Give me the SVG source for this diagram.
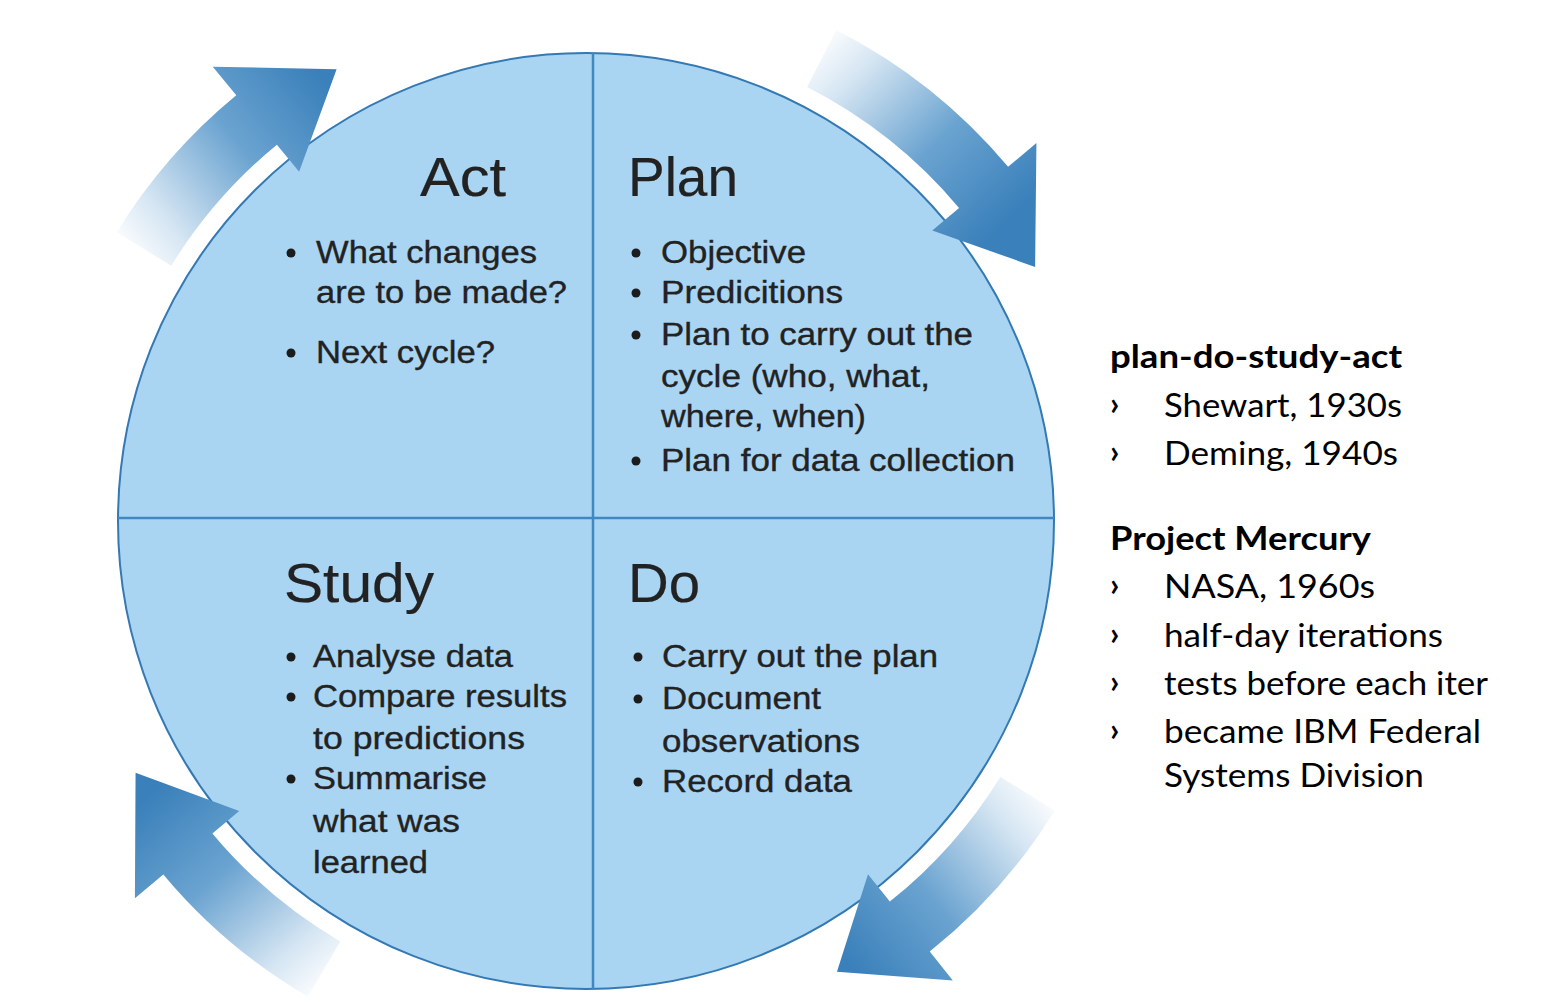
<svg xmlns="http://www.w3.org/2000/svg" width="1542" height="1004" viewBox="0 0 1542 1004">
<style>
.q{font-family:"Liberation Sans",Arial,sans-serif;fill:#222;stroke:#222;stroke-width:0.35px}
.t{font-size:56px;stroke-width:0.2px}
.b{font-size:31px}
.r{font-family:Lato,"Open Sans",sans-serif;font-size:33px;fill:#000}
.rb{font-weight:bold}
.ch{font-family:Lato,sans-serif;font-size:32px;font-weight:bold;fill:#000}
.dot{fill:#1c1c1c}
.arr{fill:url(#ag)}
</style>
<defs>
<linearGradient id="ag" gradientUnits="userSpaceOnUse" x1="545" y1="-10" x2="460" y2="240">
<stop offset="0" stop-color="#ffffff"/>
<stop offset="0.2" stop-color="#d6e6f3"/>
<stop offset="0.6" stop-color="#6aa3d0"/>
<stop offset="1" stop-color="#3a80ba"/>
</linearGradient>
</defs>
<rect width="1542" height="1004" fill="#ffffff"/>

<g id="cycle">
<circle cx="586" cy="521" r="468" fill="#a9d5f2" stroke="#3479b3" stroke-width="2"/>
<line x1="593" y1="53" x2="593" y2="989" stroke="#3f88c2" stroke-width="2.5"/>
<line x1="118" y1="518" x2="1054" y2="518" stroke="#3f88c2" stroke-width="2.5"/>
</g>

<g id="connectors">
<path class="arr" transform="translate(586,521) rotate(-148.4)" d="M551,0 A551,551 0 0 1 520.98,179.39 L555.97,191.43 L449.11,254.09 L427.37,147.16 L460.47,158.55 A487,487 0 0 0 487,0 Z"/>
<path class="arr" transform="translate(586,521) rotate(-63)" d="M551,0 A551,551 0 0 1 507.20,215.29 L541.25,229.75 L430.29,284.80 L416.07,176.61 L448.28,190.29 A487,487 0 0 0 487,0 Z"/>
<path class="arr" transform="translate(586,521) rotate(31.7)" d="M551,0 A551,551 0 0 1 518.75,185.74 L553.58,198.21 L450.43,251.74 L425.54,152.37 L458.50,164.17 A487,487 0 0 0 487,0 Z"/>
<path class="arr" transform="translate(586,521) rotate(120.3)" d="M551,0 A551,551 0 0 1 518.42,186.65 L553.24,199.18 L444.60,261.89 L425.28,153.11 L458.21,164.97 A487,487 0 0 0 487,0 Z"/>
</g>

<g id="act">
<text class="q t" x="420" y="196" textLength="86" lengthAdjust="spacingAndGlyphs">Act</text>
<circle class="dot" cx="291" cy="253" r="4.5"/>
<text class="q b" x="316" y="263" textLength="221" lengthAdjust="spacingAndGlyphs">What changes</text>
<text class="q b" x="316" y="303" textLength="251" lengthAdjust="spacingAndGlyphs">are to be made?</text>
<circle class="dot" cx="291" cy="353" r="4.5"/>
<text class="q b" x="316" y="363" textLength="179" lengthAdjust="spacingAndGlyphs">Next cycle?</text>
</g>

<g id="plan">
<text class="q t" x="628" y="196" textLength="110" lengthAdjust="spacingAndGlyphs">Plan</text>
<circle class="dot" cx="636" cy="253" r="4.5"/>
<text class="q b" x="661" y="263" textLength="145" lengthAdjust="spacingAndGlyphs">Objective</text>
<circle class="dot" cx="636" cy="293" r="4.5"/>
<text class="q b" x="661" y="303" textLength="182" lengthAdjust="spacingAndGlyphs">Predicitions</text>
<circle class="dot" cx="636" cy="335" r="4.5"/>
<text class="q b" x="661" y="345" textLength="312" lengthAdjust="spacingAndGlyphs">Plan to carry out the</text>
<text class="q b" x="661" y="387" textLength="269" lengthAdjust="spacingAndGlyphs">cycle (who, what,</text>
<text class="q b" x="661" y="427" textLength="205" lengthAdjust="spacingAndGlyphs">where, when)</text>
<circle class="dot" cx="636" cy="461" r="4.5"/>
<text class="q b" x="661" y="471" textLength="354" lengthAdjust="spacingAndGlyphs">Plan for data collection</text>
</g>

<g id="study">
<text class="q t" x="284" y="602" textLength="150" lengthAdjust="spacingAndGlyphs">Study</text>
<circle class="dot" cx="291" cy="657" r="4.5"/>
<text class="q b" x="313" y="667" textLength="200" lengthAdjust="spacingAndGlyphs">Analyse data</text>
<circle class="dot" cx="291" cy="697" r="4.5"/>
<text class="q b" x="313" y="707" textLength="254" lengthAdjust="spacingAndGlyphs">Compare results</text>
<text class="q b" x="313" y="749" textLength="212" lengthAdjust="spacingAndGlyphs">to predictions</text>
<circle class="dot" cx="291" cy="779" r="4.5"/>
<text class="q b" x="313" y="789" textLength="174" lengthAdjust="spacingAndGlyphs">Summarise</text>
<text class="q b" x="313" y="832" textLength="147" lengthAdjust="spacingAndGlyphs">what was</text>
<text class="q b" x="313" y="873" textLength="115" lengthAdjust="spacingAndGlyphs">learned</text>
</g>

<g id="do">
<text class="q t" x="628" y="602" textLength="72" lengthAdjust="spacingAndGlyphs">Do</text>
<circle class="dot" cx="638" cy="657" r="4.5"/>
<text class="q b" x="662" y="667" textLength="276" lengthAdjust="spacingAndGlyphs">Carry out the plan</text>
<circle class="dot" cx="638" cy="699" r="4.5"/>
<text class="q b" x="662" y="709" textLength="159" lengthAdjust="spacingAndGlyphs">Document</text>
<text class="q b" x="662" y="752" textLength="198" lengthAdjust="spacingAndGlyphs">observations</text>
<circle class="dot" cx="638" cy="782" r="4.5"/>
<text class="q b" x="662" y="792" textLength="190" lengthAdjust="spacingAndGlyphs">Record data</text>
</g>

<g id="notes">
<text class="r rb" x="1110" y="368" textLength="292" lengthAdjust="spacingAndGlyphs">plan-do-study-act</text>
<text class="ch" x="1110" y="415">›</text>
<text class="r" x="1164" y="417" textLength="238" lengthAdjust="spacingAndGlyphs">Shewart, 1930s</text>
<text class="ch" x="1110" y="463">›</text>
<text class="r" x="1164" y="465" textLength="234" lengthAdjust="spacingAndGlyphs">Deming, 1940s</text>
<text class="r rb" x="1110" y="550" textLength="261" lengthAdjust="spacingAndGlyphs">Project Mercury</text>
<text class="ch" x="1110" y="596">›</text>
<text class="r" x="1164" y="598" textLength="211" lengthAdjust="spacingAndGlyphs">NASA, 1960s</text>
<text class="ch" x="1110" y="645">›</text>
<text class="r" x="1164" y="647" textLength="279" lengthAdjust="spacingAndGlyphs">half-day iterations</text>
<text class="ch" x="1110" y="693">›</text>
<text class="r" x="1164" y="695" textLength="324" lengthAdjust="spacingAndGlyphs">tests before each iter</text>
<text class="ch" x="1110" y="741">›</text>
<text class="r" x="1164" y="743" textLength="317" lengthAdjust="spacingAndGlyphs">became IBM Federal</text>
<text class="r" x="1164" y="787" textLength="260" lengthAdjust="spacingAndGlyphs">Systems Division</text>
</g>
</svg>
